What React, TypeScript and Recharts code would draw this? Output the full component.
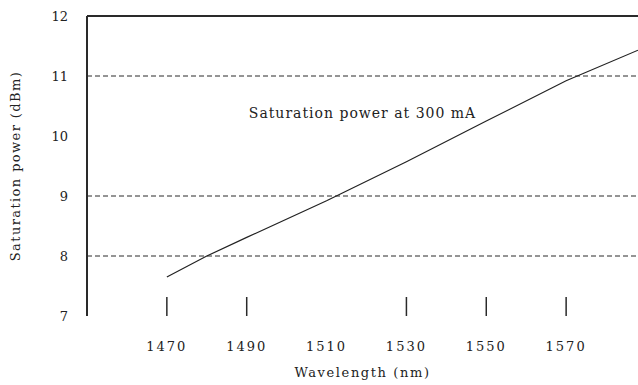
import React from "react";
import { LineChart, Line, XAxis, YAxis, ReferenceLine, ReferenceDot, Label } from "recharts";

const wavelengths = [1470, 1480, 1490, 1510, 1530, 1550, 1570, 1588];
const satPower = [7.65, 8.0, 8.31, 8.92, 9.57, 10.25, 10.92, 11.43];
const xTicks = [1470, 1490, 1510, 1530, 1550, 1570];
const xTicksWithMark = [1470, 1490, 1530, 1550, 1570];
const yTicks = [7, 8, 9, 10, 11, 12];
const gridValues = [8, 9, 11];

const data = wavelengths.map((w, i) => ({ w, p: satPower[i] }));

const FONT = "'DejaVu Serif', 'Liberation Serif', serif";
const INK = "#2a2a2a";

const XTick = (props: any) => {
  const { x, y, payload } = props;
  const v = payload.value;
  return (
    <g>
      {xTicksWithMark.includes(v) && (
        <line x1={x} x2={x} y1={y - 19} y2={y} stroke={INK} strokeWidth={1.5} />
      )}
      <text x={x} y={y + 35} textAnchor="middle" fontFamily={FONT} fontSize={13} letterSpacing={2} fill="#222">
        {v}
      </text>
    </g>
  );
};

const YTick = (props: any) => {
  const { x, y, payload } = props;
  return (
    <text x={x} y={y + 5} textAnchor="end" fontFamily={FONT} fontSize={13} fill="#222">
      {payload.value}
    </text>
  );
};

const YTitle = (props: any) => {
  const vb = props.viewBox || {};
  const cy = (vb.y ?? 16) + (vb.height ?? 300) / 2;
  const cx = 15;
  return (
    <text
      x={cx}
      y={cy}
      transform={`rotate(-90 ${cx} ${cy})`}
      textAnchor="middle"
      dominantBaseline="central"
      fontFamily={FONT}
      fontSize={13}
      letterSpacing={1.4}
      fill="#222"
    >
      Saturation power (dBm)
    </text>
  );
};

export default function App() {
  return (
    <div style={{ position: "absolute", left: 0, top: 0, width: 638, height: 385 }}>
      <LineChart width={638} height={385} data={data} margin={{ top: 16, right: 0, left: 0, bottom: 0 }}>
        <XAxis
          dataKey="w"
          type="number"
          domain={[1450, 1588]}
          ticks={xTicks}
          axisLine={false}
          tickLine={false}
          tickSize={0}
          tickMargin={0}
          height={69}
          tick={<XTick />}
          interval={0}
        >
          <Label
            value="Wavelength (nm)"
            position="insideBottom"
            offset={8}
            style={{ fontFamily: FONT, fontSize: 13, letterSpacing: 1.6, fill: "#222" }}
          />
        </XAxis>
        <YAxis
          type="number"
          domain={[7, 12]}
          ticks={yTicks}
          width={87}
          tickLine={false}
          tickSize={0}
          tickMargin={19}
          axisLine={{ stroke: INK, strokeWidth: 2 }}
          tick={<YTick />}
          interval={0}
        >
          <Label content={<YTitle />} />
        </YAxis>
        {gridValues.map((g) => (
          <ReferenceLine key={g} y={g} stroke={INK} strokeWidth={1} strokeDasharray="5 3" />
        ))}
        <ReferenceLine y={12} stroke={INK} strokeWidth={2} />
        <Line
          dataKey="p"
          type="linear"
          stroke="#222"
          strokeWidth={1.2}
          dot={false}
          isAnimationActive={false}
        />
        <ReferenceDot
          x={1519}
          y={10.38}
          r={0}
          fill="none"
          stroke="none"
          label={{
            value: "Saturation power at 300 mA",
            position: "center",
            style: { fontFamily: FONT, fontSize: 14, letterSpacing: 1, fill: "#222" },
          }}
        />
      </LineChart>
    </div>
  );
}
